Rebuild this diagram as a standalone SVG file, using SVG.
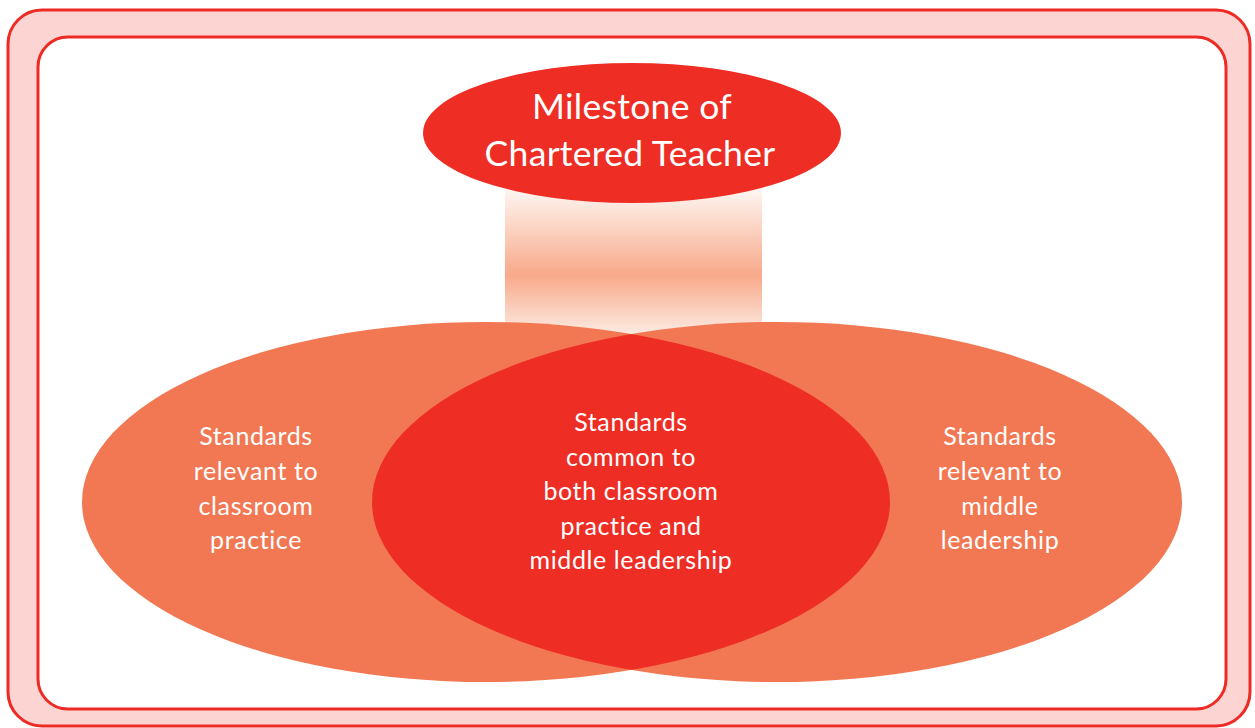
<svg xmlns="http://www.w3.org/2000/svg" width="1255" height="728" viewBox="0 0 1255 728">
<style>
.t{font-family:Lato,"Open Sans","Liberation Sans",sans-serif;fill:#ffffff;text-anchor:middle}
.big{font-size:35.5px;letter-spacing:0.3px}
.sm{font-size:25px;letter-spacing:0.6px}
</style>
<defs>
<linearGradient id="g" x1="0" y1="0" x2="0" y2="1">
<stop offset="0" stop-color="#fefaf7"/>
<stop offset="0.6" stop-color="#f8a98a"/>
<stop offset="1" stop-color="#fcebe3"/>
</linearGradient>
<clipPath id="cl"><ellipse cx="486" cy="502" rx="404" ry="180"/></clipPath>
</defs>
<rect x="8" y="10" width="1242" height="716" rx="34" fill="#fcd5d3" stroke="#ee2a24" stroke-width="3"/>
<rect x="38" y="37" width="1188" height="672" rx="30" fill="#ffffff" stroke="#ee2a24" stroke-width="3"/>
<g id="connectors">
<rect x="505" y="185" width="257" height="150" fill="url(#g)"/>
</g>
<g id="left">
<ellipse cx="486" cy="502" rx="404" ry="180" fill="#f27853"/>
</g>
<g id="right">
<ellipse cx="777" cy="502" rx="405" ry="180" fill="#f27853"/>
</g>
<g id="common">
<ellipse cx="777" cy="502" rx="405" ry="180" fill="#ee2e24" clip-path="url(#cl)"/>
</g>
<g id="milestone">
<ellipse cx="632" cy="133" rx="209" ry="70" fill="#ee2e24"/>
<text class="t big" x="632" y="119">Milestone of</text>
<text class="t big" x="630" y="166">Chartered Teacher</text>
</g>
<g id="left-text">
<text class="t sm" x="256" y="445">Standards</text>
<text class="t sm" x="256" y="480">relevant to</text>
<text class="t sm" x="256" y="515">classroom</text>
<text class="t sm" x="256" y="549">practice</text>
</g>
<g id="common-text">
<text class="t sm" x="631" y="431">Standards</text>
<text class="t sm" x="631" y="466">common to</text>
<text class="t sm" x="631" y="500">both classroom</text>
<text class="t sm" x="631" y="535">practice and</text>
<text class="t sm" x="631" y="569">middle leadership</text>
</g>
<g id="right-text">
<text class="t sm" x="1000" y="445">Standards</text>
<text class="t sm" x="1000" y="480">relevant to</text>
<text class="t sm" x="1000" y="515">middle</text>
<text class="t sm" x="1000" y="549">leadership</text>
</g>
</svg>
